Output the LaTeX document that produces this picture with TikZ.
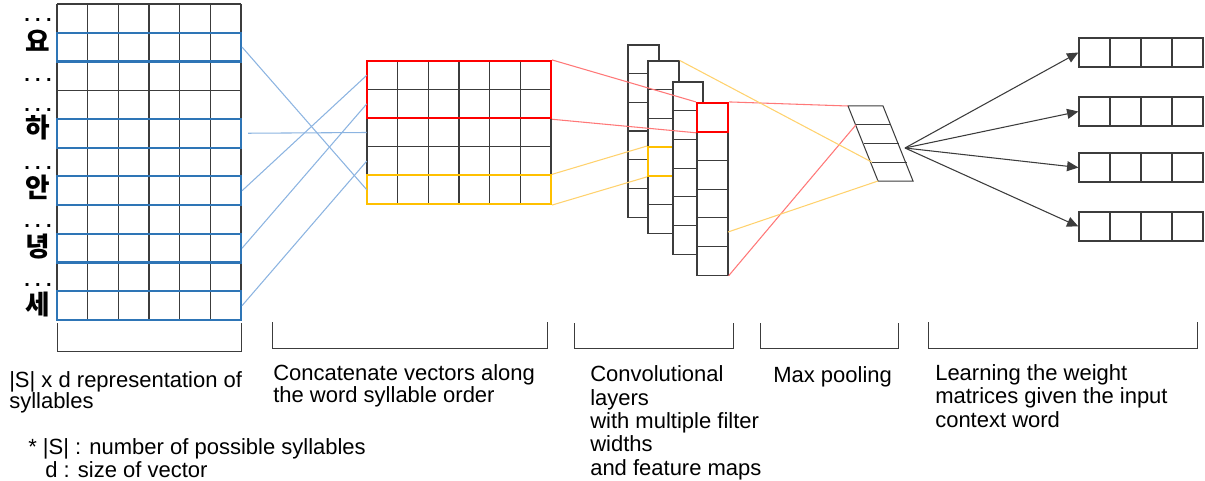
\documentclass[tikz,border=0pt]{standalone}
\usepackage{fontspec}
\setmainfont{Liberation Sans}
\newfontfamily\krfont{Noto Sans CJK KR}
\usetikzlibrary{fit,arrows.meta}
\definecolor{boxblue}{RGB}{46,117,182}
\definecolor{lineblue}{RGB}{140,180,225}
\definecolor{boxred}{RGB}{255,0,0}
\definecolor{linered}{RGB}{255,120,120}
\definecolor{boxyel}{RGB}{255,192,0}
\definecolor{lineyel}{RGB}{255,210,110}
\definecolor{gridc}{RGB}{60,60,60}
\begin{document}
\begin{tikzpicture}[x=0.75pt,y=-0.75pt,
  gridline/.style={draw=gridc,line width=0.9pt},
  hl/.style={draw=#1,line width=1.6pt,inner sep=0pt},
  region/.style={inner sep=0pt},
  layer/.style={draw=gridc,line width=0.9pt,fill=white,inner sep=0pt},
  bluelink/.style={draw=lineblue,line width=0.8pt},
  redlink/.style={draw=linered,line width=0.8pt},
  yellink/.style={draw=lineyel,line width=0.8pt},
  outarrow/.style={draw=gridc,line width=0.8pt,-{Triangle[length=8.5pt,width=7.5pt]}},
  bracket/.style={draw=gridc,line width=0.75pt},
  txt/.style={font=\fontsize{16.5pt}{#1}\selectfont,align=left,inner sep=0pt,anchor=base west},
  txt/.default={17.5pt},
  kr/.style={font=\krfont\bfseries\fontsize{20pt}{20pt}\selectfont,inner sep=0pt},
  dots/.style={font=\bfseries\fontsize{15pt}{15pt}\selectfont,inner sep=0pt}]
\useasboundingbox (0,0) rectangle (1205,481);

% ---------- left grid (11 x 6)
\foreach \i in {0,...,6} \draw[gridline] ({57+\i*184/6},4) -- ({57+\i*184/6},320);
\foreach \j in {0,...,11} \draw[gridline] (57,{4+\j*316/11}) -- (241,{4+\j*316/11});
\node[hl=boxblue, fit={(57,32.73) (241,61.45)}] (yo) {};
\node[hl=boxblue, fit={(57,118.91) (241,147.64)}] (ha) {};
\node[hl=boxblue, fit={(57,176.36) (241,205.09)}] (an) {};
\node[hl=boxblue, fit={(57,233.82) (241,262.55)}] (nyeong) {};
\node[hl=boxblue, fit={(57,291.27) (241,320)}] (se) {};

% syllable labels
\node[kr] (kyo) at (38,41) {요};
\node[kr] (kha) at (38,128) {하};
\node[kr] (kan) at (38,187.5) {안};
\node[kr] (kny) at (38,246.5) {녕};
\node[kr] (kse) at (38,304.5) {세};
\foreach \y/\n in {20/d0,80/d2,110/d3,168/d5,226/d7,285/d9}
  \node[dots] (\n) at (38,\y) {.\kern4pt.\kern4pt.};

% ---------- middle grid (5 x 6)
\foreach \i in {0,...,6} \draw[gridline] ({367+\i*184/6},61) -- ({367+\i*184/6},204);
\foreach \j in {0,...,5} \draw[gridline] (367,{61+\j*28.6}) -- (551,{61+\j*28.6});
\node[region, fit={(367,61) (551,89.6)}] (m0) {};
\node[region, fit={(367,89.6) (551,118.2)}] (m1) {};
\node[region, fit={(367,118.2) (551,146.8)}] (m2) {};
\node[region, fit={(367,146.8) (551,175.4)}] (m3) {};
\node[region, fit={(367,175.4) (551,204)}] (m4) {};
\node[hl=boxred, fit={(367,61) (551,118.2)}] (redbox) {};
\node[hl=boxyel, fit={(367,175.4) (551,204)}] (yelbox) {};

% blue links
\draw[bluelink] (yo.east) -- (m4.west);
\draw[bluelink, shorten <=4.5pt] (ha.east) -- (m2.west);
\draw[bluelink] (an.east) -- (m0.west);
\draw[bluelink] (nyeong.east) -- (m1.west);
\draw[bluelink] (se.east) -- (m3.west);

% ---------- convolutional layers
\node[layer, fit={(628,45) (659,217.2)}] (c1) {};
\foreach \j in {1,...,5} \draw[gridline] (628,{45+\j*28.7}) -- (659,{45+\j*28.7});
\node[layer, fit={(648,61) (679,233.2)}] (c2) {};
\foreach \j in {1,...,5} \draw[gridline] (648,{61+\j*28.7}) -- (679,{61+\j*28.7});
\node[hl=boxyel, fit={(648,147.1) (679,175.8)}] (yelcell) {};
\node[layer, fit={(673,82) (703,254.2)}] (c3) {};
\foreach \j in {1,...,5} \draw[gridline] (673,{82+\j*28.7}) -- (703,{82+\j*28.7});
\node[layer, fit={(697,103) (728,275.2)}] (c4) {};
\foreach \j in {1,...,5} \draw[gridline] (697,{103+\j*28.7}) -- (728,{103+\j*28.7});
\node[hl=boxred, fit={(697,103) (728,131.7)}] (redcell) {};

% links into conv layers
\draw[redlink] (redbox.north east) -- (redcell.north west);
\draw[redlink] (redbox.south east) -- (redcell.south west);
\draw[yellink] (yelbox.north east) -- (yelcell.north west);
\draw[yellink] (yelbox.south east) -- (yelcell.south west);

% ---------- max pooling
\coordinate (p0) at (848,106);
\coordinate (p1) at (856,124.75);
\coordinate (p2) at (864,143.5);
\coordinate (p3) at (872,162.25);
\coordinate (p4) at (878,181);
\draw[gridline, line width=0.75pt] (p0) -- (883,106) -- (913,181) -- (p4) -- cycle;
\draw[gridline, line width=0.75pt] (p1) -- ++(35,0) (p2) -- ++(35,0) (p3) -- ++(35,0);

\coordinate (c4y) at (728,232);
\draw[redlink] (redcell.north east) -- (p0);
\draw[redlink] (c4.south east) -- (p1);
\draw[yellink] (c2.north east) -- (p3);
\draw[yellink] (c4y) -- (p4);

% ---------- output vectors
\foreach \n/\y in {v1/38, v2/97, v3/153, v4/212} {
  \node[layer, fit={(1079,\y) (1203,\y+29)}] (\n) {};
  \foreach \i in {1,2,3} \draw[gridline] ({1079+\i*31},\y) -- ({1079+\i*31},\y+29);
}
\coordinate (src) at (905,148);
\foreach \n in {v1,v2,v3,v4} \draw[outarrow] (src) -- (\n.west);

% ---------- brackets
\draw[bracket] (57,323) -- (57,351) -- (241,351) -- (241,323);
\draw[bracket] (272,322) -- (272,348) -- (547,348) -- (547,322);
\draw[bracket] (574,323) -- (574,348) -- (733,348) -- (733,323);
\draw[bracket] (760,323) -- (760,348) -- (898,348) -- (898,323);
\draw[bracket] (928,322) -- (928,348) -- (1197,348) -- (1197,322);

% ---------- captions (anchor = baseline of the last line)
\node[txt=15.75pt] (t1) at (9,408) {|S| x d representation of\\syllables};
\node[txt=16.5pt] (t2) at (273,402) {Concatenate vectors along\\the word syllable order};
\node[txt=17.5pt] (t3) at (590,475) {Convolutional\\layers\\with multiple filter\\widths\\and feature maps};
\node[txt] (t4) at (773,382) {Max pooling};
\node[txt=17.6pt] (t5) at (935,427) {Learning the weight\\matrices given the input\\context word};
\node[txt=17.25pt] (fn) at (28,477) {* |S| : number of possible syllables\\\hspace*{12.75pt}d : size of vector};
\end{tikzpicture}
\end{document}
